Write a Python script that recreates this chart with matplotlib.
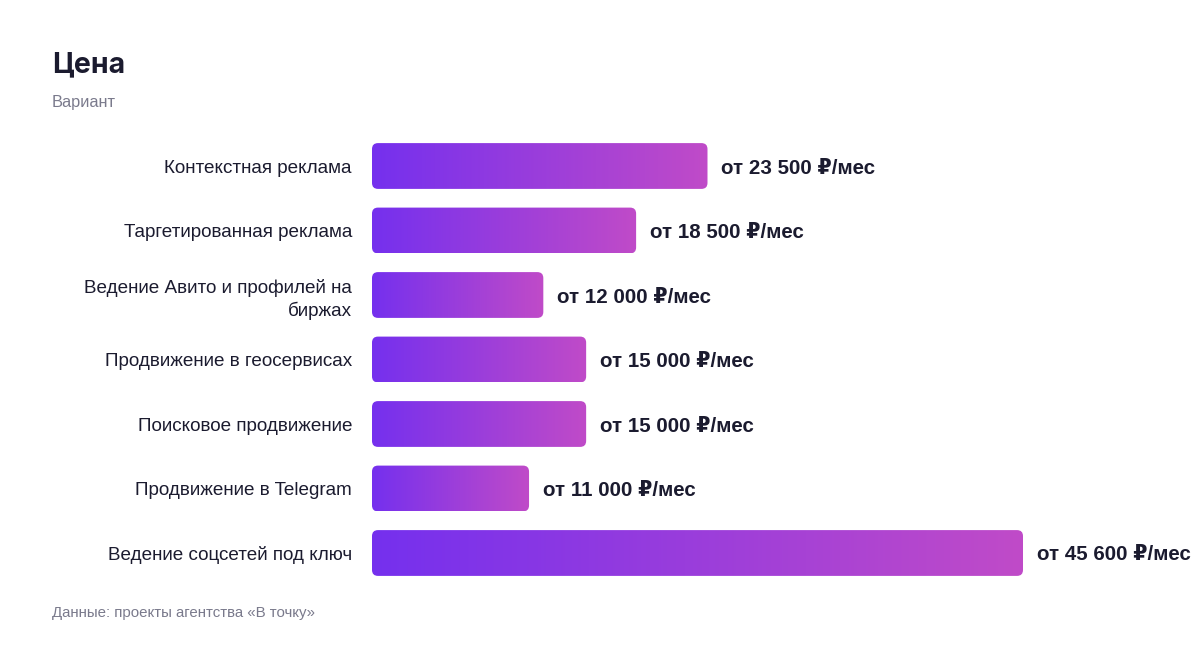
import numpy as np
import matplotlib
matplotlib.use("Agg")
import matplotlib.pyplot as plt
from matplotlib.colors import LinearSegmentedColormap
from matplotlib.patches import FancyBboxPatch

# data
categories = [
    "Контекстная реклама",
    "Таргетированная реклама",
    "Ведение Авито и профилей на\nбиржах",
    "Продвижение в геосервисах",
    "Поисковое продвижение",
    "Продвижение в Telegram",
    "Ведение соцсетей под ключ",
]
prices = [23500, 18500, 12000, 15000, 15000, 11000, 45600]
value_labels = [
    "от 23 500 ₽/мес",
    "от 18 500 ₽/мес",
    "от 12 000 ₽/мес",
    "от 15 000 ₽/мес",
    "от 15 000 ₽/мес",
    "от 11 000 ₽/мес",
    "от 45 600 ₽/мес",
]
title = "Цена"
subtitle = "Вариант"
source = "Данные: проекты агентства «В точку»"

DARK = "#1b1b2f"
GREY = "#7a7a8c"
grad = LinearSegmentedColormap.from_list("bar", ["#7530ee", "#c04bc8"])

W, H = 1200, 648
fig = plt.figure(figsize=(W / 100, H / 100), dpi=100)
fig.patch.set_facecolor("white")

ax_left, ax_right = 372, 1023
row_top, row_bot = 133.75, 585.25
ax = fig.add_axes([ax_left / W, 1 - row_bot / H, (ax_right - ax_left) / W, (row_bot - row_top) / H])
ax.set_xlim(0, max(prices))
ax.set_ylim(len(prices) - 0.5, -0.5)

bar_h = 0.71
y = np.arange(len(prices))
bars = ax.barh(y, prices, height=bar_h, color="none")

# data units per pixel, for rounding corners evenly
xpp = max(prices) / (ax_right - ax_left)
ypp = len(prices) / (row_bot - row_top)
radius_px = 6
gradient = np.linspace(0, 1, 256).reshape(1, -1)
for rect in bars:
    x0, y0 = rect.get_x(), rect.get_y()
    w, h = rect.get_width(), rect.get_height()
    patch = FancyBboxPatch(
        (x0, y0), w, h,
        boxstyle=f"round,pad=0,rounding_size={radius_px * xpp}",
        mutation_aspect=ypp / xpp,
        facecolor="none", edgecolor="none",
    )
    ax.add_patch(patch)
    im = ax.imshow(gradient, cmap=grad, aspect="auto",
                   extent=(x0, x0 + w, y0 + h, y0), interpolation="bicubic")
    im.set_clip_path(patch)

ax.set_xlim(0, max(prices))
ax.set_ylim(len(prices) - 0.5, -0.5)

for yi, p, lab in zip(y, prices, value_labels):
    ax.annotate(lab, (p, yi), xytext=(14, -2), textcoords="offset pixels",
                ha="left", va="center", fontsize=14.8, fontweight="bold",
                color=DARK, family=["Liberation Sans", "DejaVu Sans"],
                annotation_clip=False)

ax.set_yticks(y)
ax.set_yticklabels(categories, fontsize=13.6, color=DARK, family="Liberation Sans",
                   linespacing=1.35)
ax.tick_params(axis="y", length=0, pad=14.4)
ax.set_xticks([])
for s in ax.spines.values():
    s.set_visible(False)
ax.set_facecolor("none")

fig.text(52 / W, 1 - 65 / H, title, fontsize=20.5, fontweight="bold", color=DARK,
         family=["Inter", "DejaVu Sans"], va="center", ha="left")
fig.text(52 / W, 1 - 102 / H, subtitle, fontsize=11.8, color=GREY,
         family="Liberation Sans", va="center", ha="left")
fig.text(52 / W, 1 - 613 / H, source, fontsize=10.8, color=GREY,
         family="Liberation Sans", va="center", ha="left")

fig.savefig("out.png", dpi=100, facecolor="white")
